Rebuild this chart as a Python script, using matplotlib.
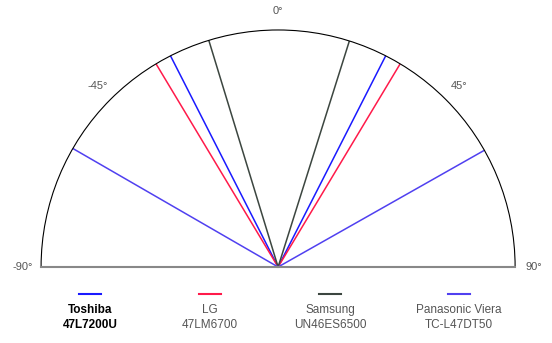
import numpy as np
import matplotlib
matplotlib.use('Agg')
import matplotlib.pyplot as plt
from matplotlib.lines import Line2D

plt.rcParams['font.family'] = ['Liberation Sans', 'DejaVu Sans']

# viewing angle limits (degrees, left / right of centre)
tvs = ["Toshiba\n47L7200U", "LG\n47LM6700", "Samsung\nUN46ES6500", "Panasonic Viera\nTC-L47DT50"]
left_angle = [-27, -31, -17, -60]
right_angle = [27, 31, 17.5, 60.5]
colors = ['#1a1aff', '#ff1a4a', '#3c4640', '#5040f0']

tick_deg = [-90, -45, 0, 45, 90]
tick_labels = ['-90°', '-45°', '0°', '45°', '90°']

fig = plt.figure(figsize=(5.52, 3.43), dpi=100)
# square box so the half disc gets radius ~237 px, centre at (278, 267)
ax = fig.add_axes([0.0743, -0.1239, 0.859, 1.382], projection='polar')
ax.set_theta_zero_location('N')
ax.set_theta_direction(-1)
ax.set_thetamin(-90)
ax.set_thetamax(90)
ax.set_ylim(0, 1)

for l, r, c in zip(left_angle, right_angle, colors):
    ax.plot([np.radians(l), 0, np.radians(r)], [1, 0, 1], color=c, lw=1.1)

ax.set_thetagrids(tick_deg, labels=tick_labels, color='#555555', fontsize=8)
ax.set_rticks([])
ax.grid(False)
ax.spines['polar'].set_linewidth(0.8)
ax.spines['start'].set_color('#888888')
ax.spines['end'].set_color('#888888')
ax.spines['start'].set_linewidth(1.5)
ax.spines['end'].set_linewidth(1.5)
ax.spines['inner'].set_visible(False)
ax.tick_params(axis='x', pad=3)

# legend: short line above two-line label
col_x = [90, 210, 330, 459]
for i, (name, c) in enumerate(zip(tvs, colors)):
    x = col_x[i] / 552
    fig.add_artist(Line2D([x - 0.02, x + 0.02], [1 - 294 / 343] * 2, color=c, lw=1.5))
    weight = 'bold' if i == 0 else 'normal'
    tc = 'black' if i == 0 else '#555555'
    fig.text(x, 1 - 304 / 343, name, ha='center', va='top', fontsize=8.5,
             fontweight=weight, color=tc, linespacing=1.3)

fig.savefig('out.png', dpi=100)
